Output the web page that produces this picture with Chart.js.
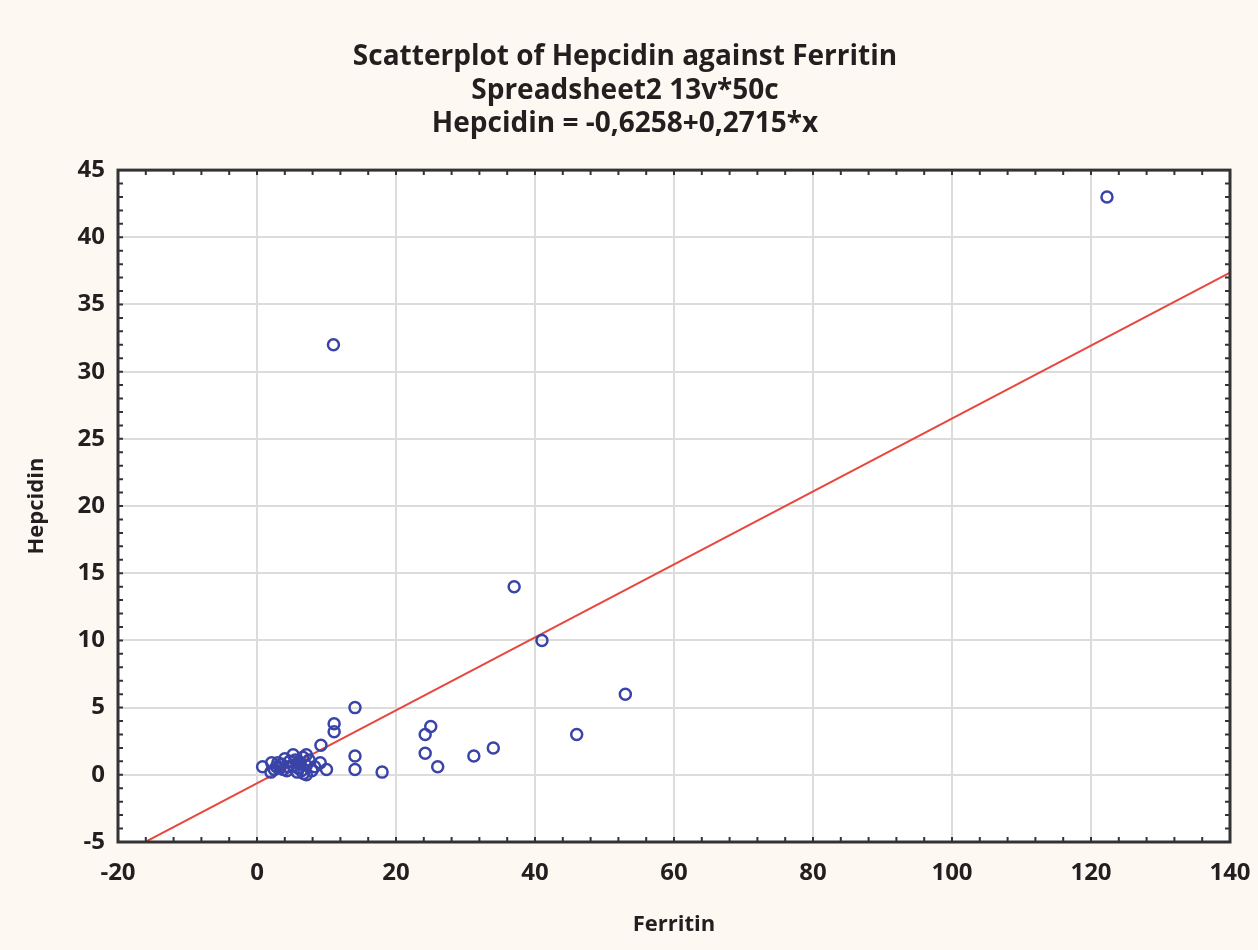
<!DOCTYPE html>
<html lang="en">
<head>
    <meta charset="UTF-8">
    <title>Scatterplot of Hepcidin against Ferritin</title>
    <script src="https://cdn.jsdelivr.net/npm/chart.js"></script>
    <style>
        html, body { margin: 0; padding: 0; background: #fdf9f2; }
        #wrap { width: 1258px; height: 950px; }
    </style>
</head>
<body>
    <div id="wrap"><canvas id="scatter"></canvas></div>

    <script>
        // values
        const ferritin = [122.3, 11, 37, 41, 53, 46, 34, 31.2, 26, 25, 24.2, 24.2, 18, 14.1, 14.1, 14.1, 11.1, 11.1, 9.2,
            0.8, 2.0, 2.1, 2.5, 2.8, 3.3, 3.5, 3.8, 4.0, 4.3, 4.5, 4.7, 5.2, 5.2, 5.5, 5.9, 6.0, 6.2, 6.4, 6.7,
            7.1, 7.1, 7.1, 7.5, 7.9, 8.3, 9.1, 10.0, 5.8, 3.0, 6.6];
        const hepcidin = [43, 32, 14, 10, 6, 3, 2, 1.4, 0.6, 3.6, 3.0, 1.6, 0.2, 5, 1.4, 0.4, 3.8, 3.2, 2.2,
            0.6, 0.2, 0.9, 0.4, 0.6, 0.5, 0.8, 0.4, 1.2, 0.3, 0.6, 1.0, 1.5, 0.7, 1.1, 0.5, 1.0, 0.8, 0.3, 0.1,
            1.5, 0.7, 0.0, 1.1, 0.3, 0.6, 0.9, 0.4, 0.2, 0.9, 1.3];
        // fitted line: Hepcidin = -0,6258 + 0,2715*x, end points at the x range
        const fitX = [-20, 140];
        const fitY = [-6.06, 37.38];

        const titleLines = ['Scatterplot of Hepcidin against Ferritin', 'Spreadsheet2 13v*50c', 'Hepcidin = -0,6258+0,2715*x'];

        const fontFam = '"Open Sans", Lato, sans-serif';
        const ink = '#231f20';

        // small inward ticks on all four sides
        const innerTicks = {
            id: 'innerTicks',
            afterDatasetsDraw(chart) {
                const { ctx, chartArea: a, scales: { x, y } } = chart;
                ctx.save();
                ctx.strokeStyle = '#333';
                ctx.lineWidth = 2;
                ctx.beginPath();
                for (let v = -20; v <= 140; v += 4) {
                    const px = x.getPixelForValue(v);
                    ctx.moveTo(px, a.bottom); ctx.lineTo(px, a.bottom - 5);
                    ctx.moveTo(px, a.top); ctx.lineTo(px, a.top + 5);
                }
                for (let v = -5; v <= 45; v += 1) {
                    const py = y.getPixelForValue(v);
                    ctx.moveTo(a.left, py); ctx.lineTo(a.left + 5, py);
                    ctx.moveTo(a.right, py); ctx.lineTo(a.right - 5, py);
                }
                ctx.stroke();
                ctx.lineWidth = 3;
                ctx.strokeRect(a.left, a.top, a.right - a.left, a.bottom - a.top);
                ctx.restore();
            }
        };

        const whitePlot = {
            id: 'whitePlot',
            beforeDraw(chart) {
                const { ctx, chartArea: a } = chart;
                ctx.save();
                ctx.fillStyle = '#ffffff';
                ctx.fillRect(a.left, a.top, a.right - a.left, a.bottom - a.top);
                ctx.restore();
            }
        };

        new Chart(document.getElementById('scatter'), {
            type: 'scatter',
            data: {
                datasets: [
                    {
                        label: 'Hepcidin',
                        data: ferritin.map((f, i) => ({ x: f, y: hepcidin[i] })),
                        pointStyle: 'circle',
                        pointRadius: 5.5,
                        borderWidth: 2.5,
                        borderColor: '#3a44a8',
                        backgroundColor: 'rgba(0,0,0,0)'
                    },
                    {
                        type: 'line',
                        label: 'fit',
                        data: fitX.map((f, i) => ({ x: f, y: fitY[i] })),
                        borderColor: '#e8473d',
                        borderWidth: 2,
                        pointRadius: 0,
                        fill: false
                    }
                ]
            },
            options: {
                responsive: true,
                maintainAspectRatio: false,
                animation: false,
                layout: { padding: { left: 20, right: 28, top: 41, bottom: 8 } },
                plugins: {
                    legend: { display: false },
                    tooltip: { enabled: false },
                    title: {
                        display: true,
                        text: titleLines,
                        color: ink,
                        font: { family: fontFam, size: 28, weight: 'bold', lineHeight: 1.18 },
                        padding: { top: 0, bottom: 30 }
                    }
                },
                scales: {
                    x: {
                        type: 'linear',
                        min: -20,
                        max: 140,
                        afterFit(s) { s.height = 100; s.paddingLeft = 0; s.paddingRight = 0; },
                        ticks: { stepSize: 20, color: ink, padding: 17, font: { family: fontFam, size: 24, weight: 'bold' } },
                        grid: { color: '#dcdcdc', lineWidth: 2, drawTicks: false },
                        border: { display: false },
                        title: { display: true, text: 'Ferritin', color: ink, font: { family: fontFam, size: 22, weight: 'bold' } }
                    },
                    y: {
                        type: 'linear',
                        min: -5,
                        max: 45,
                        afterFit(s) { s.width = 98; },
                        ticks: { stepSize: 5, color: ink, padding: 13, font: { family: fontFam, size: 24, weight: 'bold' } },
                        grid: { color: '#dcdcdc', lineWidth: 2, drawTicks: false },
                        border: { display: false },
                        title: { display: true, text: 'Hepcidin', color: ink, font: { family: fontFam, size: 22, weight: 'bold' } }
                    }
                }
            },
            plugins: [whitePlot, innerTicks]
        });
    </script>
</body>
</html>
